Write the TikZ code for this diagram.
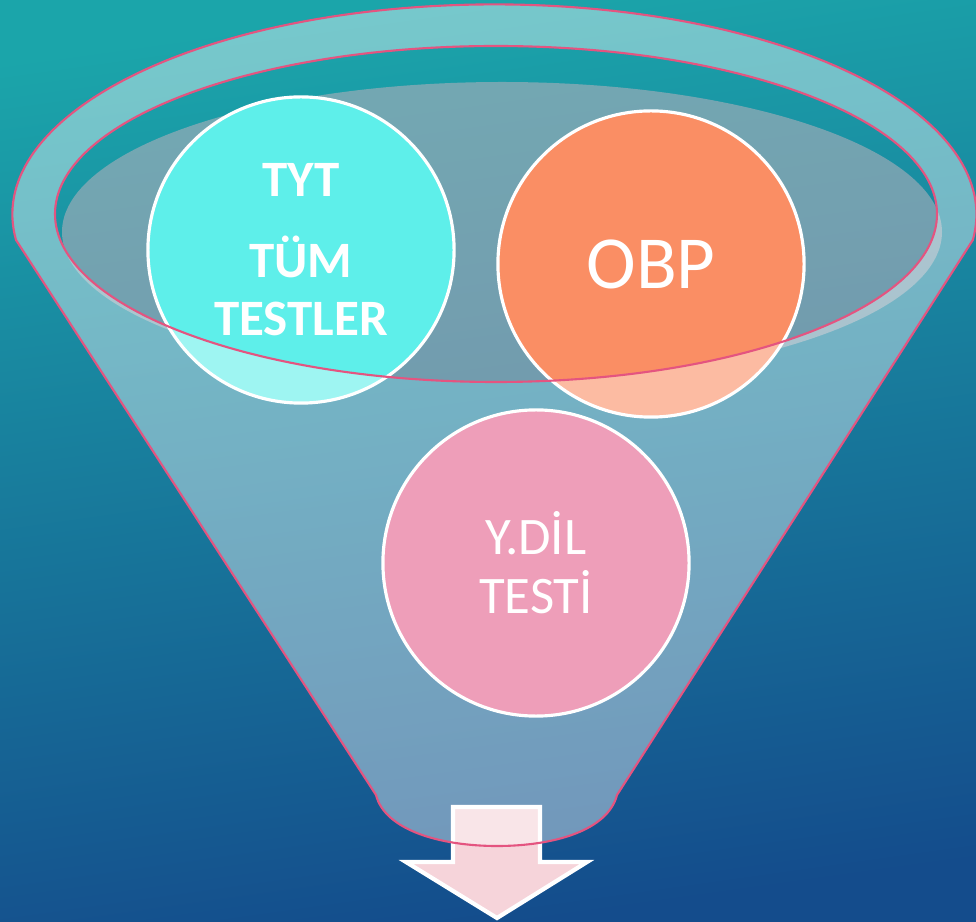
\documentclass[tikz,border=0pt]{standalone}
\usepackage{fontspec}
\usepackage{tikz}
\usetikzlibrary{calc}
\newfontfamily\bubblefont{Carlito}
\definecolor{bgtop}{RGB}{27,165,170}
\definecolor{bgmid}{RGB}{22,120,156}
\definecolor{bgbot}{RGB}{20,76,140}
\definecolor{rimpink}{RGB}{228,84,128}
\definecolor{surfgray}{RGB}{175,175,186}
\definecolor{tytcyan}{RGB}{94,239,234}
\definecolor{obporange}{RGB}{250,142,100}
\definecolor{dilpink}{RGB}{238,158,185}
\definecolor{arrowpink}{RGB}{246,212,218}
\tikzset{
    bubble/.style={circle, draw=white, line width=0.9pt, minimum size=3.06cm, inner sep=0pt, align=center, text=white},
    rimline/.style={draw=rimpink, line width=0.6pt},
}

\begin{document}
\begin{tikzpicture}[x=0.01cm, y=-0.01cm]
        \useasboundingbox (0,0) rectangle (976,922);
        \shade[top color=bgtop, middle color=bgmid, bottom color=bgbot, shading angle=8] (0,0) rectangle (976,922);
        
        \fill[surfgray, fill opacity=0.6] (502,232) ellipse [x radius=440, y radius=150];
        \draw[white, line width=1.2pt, fill=arrowpink, line join=miter] (453,807) -- (540,807) -- (540,862) -- (587,862) -- (497,918) -- (406,862) -- (453,862) -- cycle;
        
        \node[bubble, fill=tytcyan, font=\bubblefont\bfseries\fontsize{14.5}{16.5}\selectfont] (tyt) at (301,250) {TYT\\[6.5pt]TÜM\\TESTLER};
        \node[bubble, fill=obporange, font=\bubblefont\fontsize{21.3}{24}\selectfont] (obp) at (651,264) {OBP};
        
        \fill[white, fill opacity=0.4, even odd rule] (16,240) arc[start angle=173, end angle=367, x radius=482, y radius=210] -- (617,795) .. controls (608,830) and (555,846) .. (497,846) .. controls (440,846) and (385,830) .. (376,795) -- cycle (496,214) ellipse [x radius=441, y radius=168];
        \draw[rimline] (16,240) arc[start angle=173, end angle=367, x radius=482, y radius=210] -- (617,795) .. controls (608,830) and (555,846) .. (497,846) .. controls (440,846) and (385,830) .. (376,795) -- cycle;
        \draw[rimline] (496,214) ellipse [x radius=441, y radius=168];
        
        \node[bubble, fill=dilpink, font=\bubblefont\fontsize{15}{16.8}\selectfont] (dil) at (536,563) {Y.DİL\\TESTİ};
    \end{tikzpicture}
\end{document}
